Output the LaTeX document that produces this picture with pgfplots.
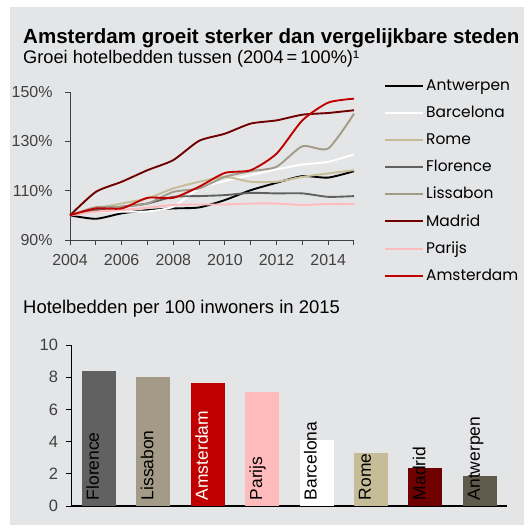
\documentclass[border=0pt]{standalone}
\usepackage{pgfplots}
\pgfplotsset{compat=1.18}
\usepackage{fontspec}
\setmainfont{Liberation Sans}
\newfontfamily\legfont{Poppins}
\definecolor{bgray}{HTML}{E4E5E7}
\definecolor{cantw}{HTML}{000000}
\definecolor{cbarc}{HTML}{FFFFFF}
\definecolor{crome}{HTML}{C5BD97}
\definecolor{cflor}{HTML}{616161}
\definecolor{cliss}{HTML}{A39A87}
\definecolor{cmadr}{HTML}{700000}
\definecolor{cpar}{HTML}{FFBBBB}
\definecolor{cams}{HTML}{C00000}
\definecolor{cantwbar}{HTML}{5F5A4B}
\definecolor{axgray}{HTML}{404040}

\begin{document}
\begin{tikzpicture}
\useasboundingbox (0,0) rectangle (524bp,-525bp);
\fill[white] (0,0) rectangle (524bp,-525bp);
\fill[bgray] (10bp,-7bp) rectangle (524bp,-525bp);

\node[anchor=base west, inner sep=0pt, font=\fontsize{20.6}{23}\selectfont\bfseries] at (23bp,-43bp) {Amsterdam groeit sterker dan vergelijkbare steden};
\node[anchor=base west, inner sep=0pt, font=\fontsize{18.3}{21}\selectfont] at (23bp,-63bp) {Groei hotelbedden tussen (2004\,=\,100\%)¹};
\node[anchor=base west, inner sep=0pt, font=\fontsize{18.5}{21}\selectfont] at (23bp,-313bp) {Hotelbedden per 100 inwoners in 2015};

% line chart
\begin{axis}[
    at={(70bp,-240bp)}, anchor=south west,
    scale only axis, width=284bp, height=148bp,
    xmin=2004, xmax=2015, ymin=90, ymax=150,
    axis x line*=bottom, axis y line*=left,
    axis line style={axgray, line width=1pt},
    xtick={2004,2005,...,2015},
    xticklabels={2004,,2006,,2008,,2010,,2012,,2014,},
    ytick={90,110,130,150},
    yticklabel={\pgfmathprintnumber{\tick}\%},
    tick style={axgray, line width=1pt},
    tick align=outside, major tick length=5bp,
    ticklabel style={font=\fontsize{16}{19}\selectfont, text=axgray},
    xticklabel style={yshift=-6bp},
    yticklabel style={xshift=-9bp},
    /pgf/number format/assume math mode=true,
    /pgf/number format/1000 sep={},
    clip=false,
    legend style={at={(1.1056,1.095)}, anchor=north west, draw=none, fill=none,
        font=\fontsize{15.5}{18}\legfont, row sep=10.2bp,
        inner sep=0pt},
    legend cell align=left,
    legend image code/.code={\draw[#1, line width=2pt] (0bp,0bp) -- (38bp,0bp);},
    every axis plot/.append style={line width=1.9pt, smooth, tension=0.4},
  ]
  \addplot[cantw] coordinates {(2004,100)(2005,98.6)(2006,100.8)(2007,102.1)(2008,102.8)(2009,103.2)(2010,106.2)(2011,110.2)(2012,113.2)(2013,115.9)(2014,115.3)(2015,117.9)};
  \addplot[cbarc] coordinates {(2004,100)(2005,101.5)(2006,101.5)(2007,101.6)(2008,103.5)(2009,110.9)(2010,113.9)(2011,116.3)(2012,118.6)(2013,120.6)(2014,121.7)(2015,124.7)};
  \addplot[crome] coordinates {(2004,100)(2005,102.8)(2006,104.8)(2007,106.9)(2008,110.9)(2009,113.6)(2010,115.6)(2011,113.6)(2012,113.6)(2013,115.6)(2014,117)(2015,118.3)};
  \addplot[cflor] coordinates {(2004,100)(2005,102.1)(2006,103.5)(2007,104.8)(2008,107.5)(2009,107.8)(2010,108.2)(2011,109.1)(2012,108.9)(2013,108.9)(2014,107.5)(2015,107.8)};
  \addplot[cliss] coordinates {(2004,100)(2005,103.3)(2006,103.5)(2007,104.8)(2008,109.5)(2009,110.9)(2010,115.6)(2011,117.9)(2012,119.7)(2013,128)(2014,127.1)(2015,141.2)};
  \addplot[cmadr] coordinates {(2004,100)(2005,109.5)(2006,113.6)(2007,118.3)(2008,122.4)(2009,130.2)(2010,133.1)(2011,137.2)(2012,138.5)(2013,140.8)(2014,141.5)(2015,142.6)};
  \addplot[cpar] coordinates {(2004,100)(2005,101.5)(2006,102.1)(2007,103.1)(2008,104.2)(2009,104.4)(2010,104.4)(2011,104.8)(2012,104.8)(2013,104.2)(2014,104.6)(2015,104.6)};
  \addplot[cams] coordinates {(2004,100)(2005,102.8)(2006,102.8)(2007,107.1)(2008,107.1)(2009,111.6)(2010,117.2)(2011,118.3)(2012,125)(2013,138.5)(2014,145.7)(2015,147.3)};
  \legend{Antwerpen,Barcelona,Rome,Florence,Lissabon,Madrid,Parijs,Amsterdam}
\end{axis}

% bar chart
\begin{axis}[
    at={(71.5bp,-506bp)}, anchor=south west,
    scale only axis, width=435.5bp, height=161bp,
    xmin=-0.505, xmax=7.5, ymin=0, ymax=10,
    axis x line*=bottom, axis y line*=left,
    axis line style={black, line width=1.2pt},
    xtick=\empty,
    ytick={0,2,...,10},
    ytick style={black, line width=1pt},
    tick align=outside, major tick length=5bp,
    ticklabel style={font=\fontsize{16.5}{19}\selectfont, text=axgray},
    yticklabel style={xshift=-5bp},
    /pgf/number format/assume math mode=true,
    clip=false,
    every axis plot/.append style={ybar, bar width=34bp, bar shift=0pt, draw=none},
  ]
  \addplot[fill=cflor] coordinates {(0,8.39)};
  \addplot[fill=cliss] coordinates {(1,8.0)};
  \addplot[fill=cams] coordinates {(2,7.62)};
  \addplot[fill=cpar] coordinates {(3,7.06)};
  \addplot[fill=cbarc] coordinates {(4,4.1)};
  \addplot[fill=crome] coordinates {(5,3.29)};
  \addplot[fill=cmadr] coordinates {(6,2.36)};
  \addplot[fill=cantwbar] coordinates {(7,1.84)};
  \addplot[draw=none, fill=none, nodes near coords, point meta=explicit symbolic,
    every node near coord/.append style={rotate=90, anchor=base west, inner sep=0pt,
      xshift=0bp, yshift=0bp, font=\fontsize{17.5}{20}\selectfont, text=black}]
    coordinates {(0,0.35)[Florence] (1,0.35)[Lissabon] (3,0.35)[Parijs] (4,0.35)[Barcelona]
      (5,0.35)[Rome] (6,0.35)[Madrid] (7,0.35)[Antwerpen]};
  \addplot[draw=none, fill=none, nodes near coords, point meta=explicit symbolic,
    every node near coord/.append style={rotate=90, anchor=base west, inner sep=0pt,
      xshift=0bp, yshift=0bp, font=\fontsize{17.5}{20}\selectfont, text=white}]
    coordinates {(2,0.35)[Amsterdam]};
\end{axis}
\end{tikzpicture}
\end{document}
